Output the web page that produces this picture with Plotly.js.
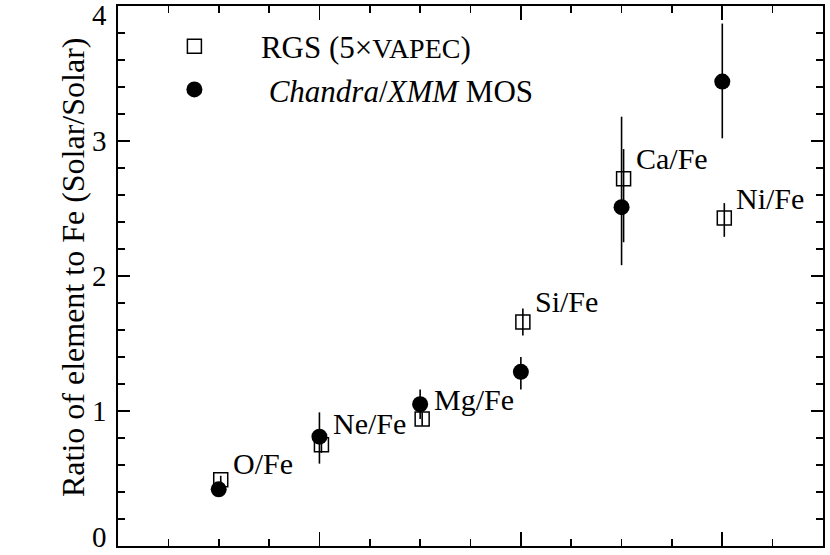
<!DOCTYPE html>
<html>
<head>
<meta charset="utf-8">
<script src="https://cdn.plot.ly/plotly-3.0.1.min.js"></script>
<style>html,body{margin:0;padding:0;background:#fff;}#chart{width:830px;height:555px;}</style>
</head>
<body>
<div id="chart"></div>
<script>
// Element ratios (position index along x)
const elements = ["O/Fe", "Ne/Fe", "Mg/Fe", "Si/Fe", "Ca/Fe", "Ni/Fe"];
const xIndex = [1, 2, 3, 4, 5, 6];

// RGS (5xVAPEC)
const rgsValue = [0.49, 0.75, 0.94, 1.66, 2.72, 2.43];
const rgsErrPlus = [0.03, 0.06, 0.05, 0.10, 0.22, 0.11];
const rgsErrMinus = [0.03, 0.06, 0.05, 0.10, 0.47, 0.14];

// Chandra/XMM MOS
const mosValue = [0.42, 0.81, 1.05, 1.29, 2.51, 3.44];
const mosErrPlus = [0.03, 0.18, 0.11, 0.11, 0.67, 0.43];
const mosErrMinus = [0.03, 0.20, 0.11, 0.13, 0.43, 0.42];

// y-axis tick labels
const yTickVals = [0, 1, 2, 3, 4];
const yTickText = ["0", "1", "2", "3", "4"];
const yTitle = "Ratio of element to Fe (Solar/Solar)";

const RGS_SHIFT = 0.02; // RGS points drawn slightly right of the MOS ones
const LABEL_YSHIFT = [16, 21, 20, 20, 20, 19];

const FONT = "Liberation Serif";

const rgsTrace = {
  x: xIndex.map(v => v + RGS_SHIFT),
  y: rgsValue,
  type: "scatter",
  mode: "markers",
  name: "&#160;&#160;&#160;&#160;&#160;&#160;RGS (5×<span style=\"font-size:28px\">VAPEC</span>)",
  marker: {symbol: "square-open", size: 14, color: "#000", line: {width: 1.5, color: "#000"}},
  error_y: {type: "data", symmetric: false, array: rgsErrPlus, arrayminus: rgsErrMinus,
            color: "#000", thickness: 1.6, width: 0}
};
const mosTrace = {
  x: xIndex,
  y: mosValue,
  type: "scatter",
  mode: "markers",
  name: "&#160;&#160;&#160;&#160;&#160;&#160;&#160;<i>Chandra</i>/<i>XMM</i> MOS",
  marker: {symbol: "circle", size: 16, color: "#000"},
  error_y: {type: "data", symmetric: false, array: mosErrPlus, arrayminus: mosErrMinus,
            color: "#000", thickness: 1.6, width: 0}
};

// element labels beside the points
const annotations = elements.map((t, i) => ({
  x: xIndex[i], y: rgsValue[i], xref: "x", yref: "y",
  text: t, showarrow: false, xanchor: "left", yanchor: "middle",
  xshift: 12, yshift: LABEL_YSHIFT[i],
  font: {family: FONT, size: 30, color: "#000"}
}));

// y tick labels (drawn as text at the axis tick values; edge labels kept inside the figure)
yTickVals.forEach((v, i) => {
  annotations.push({
    x: 0, xref: "paper", y: v, yref: "y",
    text: yTickText[i], showarrow: false, xanchor: "right", yanchor: "middle",
    xshift: -9, yshift: (i === 0 ? 9 : (i === yTickVals.length - 1 ? -9 : 0)),
    font: {family: FONT, size: 29, color: "#000"}
  });
});

// y axis title
annotations.push({
  x: 0, xref: "paper", y: 0.5, yref: "paper",
  text: yTitle, showarrow: false, textangle: -90,
  xanchor: "center", yanchor: "middle", xshift: -45, yshift: 8,
  font: {family: FONT, size: 32, color: "#000"}
});

const layout = {
  width: 830, height: 555,
  margin: {l: 118, r: 7, t: 6, b: 9},
  paper_bgcolor: "#fff", plot_bgcolor: "#fff",
  font: {family: FONT, color: "#000"},
  showlegend: true,
  legend: {x: 0.08, y: 0.975, xanchor: "left", yanchor: "top",
           font: {family: FONT, size: 31, color: "#000"},
           bgcolor: "rgba(0,0,0,0)", tracegroupgap: 0},
  xaxis: {
    range: [0, 7], showgrid: false, zeroline: false,
    showline: true, linecolor: "#000", linewidth: 2, mirror: "ticks",
    ticks: "inside", tick0: 0, dtick: 2, ticklen: 14, tickwidth: 1.6, tickcolor: "#000",
    showticklabels: false,
    minor: {ticks: "inside", dtick: 0.5, ticklen: 7, tickwidth: 1.6, tickcolor: "#000", showgrid: false}
  },
  yaxis: {
    range: [0, 4], showgrid: false, zeroline: false,
    showline: true, linecolor: "#000", linewidth: 2, mirror: "ticks",
    ticks: "inside", tickmode: "array", tickvals: yTickVals,
    ticklen: 12, tickwidth: 1.6, tickcolor: "#000",
    showticklabels: false,
    minor: {ticks: "inside", dtick: 0.2, tick0: 0, ticklen: 7, tickwidth: 1.6, tickcolor: "#000", showgrid: false}
  },
  annotations: annotations
};

Plotly.newPlot("chart", [rgsTrace, mosTrace], layout, {staticPlot: true, displayModeBar: false});
</script>
</body>
</html>
